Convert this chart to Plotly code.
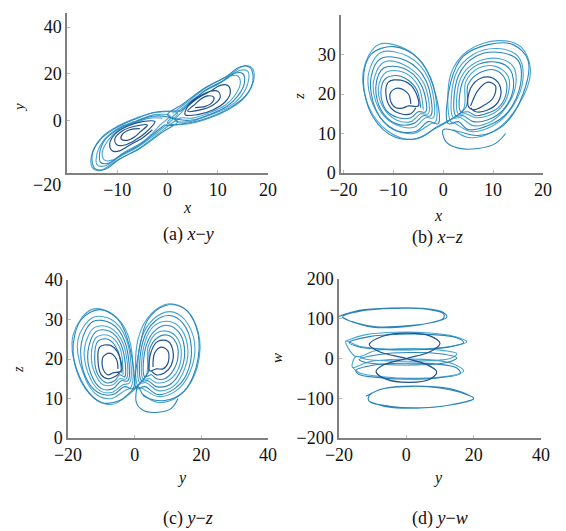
import plotly.graph_objects as go

# ---------------- (a) x-y projection ----------------
a_light_x = [-1, -3.5, -6.5, -10, -12, -13, -12.5, -11, -8.5, -5.5, -3, -1.5,
             0.5, -2.5, -6, -10, -12.5, -14, -14, -12.5, -9.5, -6, -2.5, 0,
             2, -2, -6, -10, -13, -15, -15, -13.5, -10, -6, -2, 1,
             2.5, 5, 8, 11.5, 13.5, 14.5, 14, 12.5, 10, 7, 4.5, 3,
             1.5, 4.5, 8, 12, 14.5, 16, 16, 14.5, 11.5, 8, 4.5, 2,
             0, 4, 8, 12, 15, 17, 17, 15.5, 12, 8, 4, 1]
a_light_y = [1, 1, -1, -4.5, -9, -14, -17, -17, -13.5, -10, -5.5, -2,
             2, 2.5, 0, -3.5, -8, -14, -19, -19.5, -15.5, -11.5, -6, -1.5,
             3, 3.5, 1.3, -2.5, -7, -14, -20, -21.5, -17, -12.4, -6, -1,
             1, 1, 3, 6.5, 11, 16, 19, 19, 15.5, 12, 7.5, 4,
             0, -0.5, 2, 5.5, 10, 16, 21, 21.5, 17.5, 13.5, 8, 3.5,
             -1, -1.5, 0.7, 4.5, 9, 16, 22, 23.5, 19, 14.4, 8, 3]
a_mid_x = [2.5, -2.5, -6.5, -10.5, -13.5, -15, -14.5, -12.5, -9.5, -5.5, -1, 2,
           0, -3, -6.3, -10, -12.5, -13.5, -13.3, -11.8, -9, -5.8, -2.8, -0.5,
           -0.5, 4.5, 8.5, 12.5, 15.5, 17, 16.5, 14.5, 11.5, 7.5, 3, 0,
           2, 5, 8.3, 11.8, 14, 15.3, 15, 13.5, 10.8, 7.5, 4.8, 2.5]
a_mid_y = [4, 3.5, 0.5, -3.5, -8.5, -15, -20.5, -21, -16.5, -12, -5, -0.5,
           1.5, 1.8, -0.5, -4, -8.5, -14, -18, -18.3, -14.5, -10.8, -5.8, -1.8,
           -2, -1, 1.5, 5.5, 10.5, 17, 22.5, 23, 18.5, 14, 7, 2.5,
           0.5, 0.2, 2.5, 6, 10.5, 16, 20, 20.3, 16.5, 12.8, 7.8, 3.8]
a_dark_x = [-5.5, -7.5, -9, -9.2, -8, -6.5, -5.5,
            -4, -6.5, -9, -10.5, -10, -8.5, -6.5, -4.5,
            -2.5, -5, -8, -10.5, -11.5, -11, -9.5, -7.5, -5, -3, None,
            5.5, 7.5, 9, 9.2, 8, 6.5, 5.5,
            4, 6.5, 9, 10.5, 10, 8.5, 6.5, 4.5,
            3.5, 6, 9, 11.5, 12.5, 12, 10.5, 8.5, 6, 4]
a_dark_y = [-3.5, -4, -6, -8, -8.5, -7, -5,
            -2, -2.5, -4.5, -8, -10.5, -10.5, -8.5, -5.5,
            -0.5, -0.5, -2.5, -6, -10, -13, -13, -10.5, -7.5, -4, None,
            5.5, 6, 8, 10, 10.5, 9, 7,
            4, 4.5, 6.5, 10, 12.5, 12.5, 10.5, 7.5,
            2.5, 2.5, 4.5, 8, 12, 15, 15, 12.5, 9.5, 6]

# ---------------- (b) x-z projection ----------------
b_light_x = [-4, -5, -8, -11.5, -13, -12, -9.5, -6.5, -4.5,
             -3, -4, -8, -12, -14, -13, -10, -6, -3.5,
             -2, -3, -7, -12.5, -15, -14, -10.5, -6, -2.5,
             -1.5, -2.5, -7, -13, -16, -15, -11, -6, -2,
             4, 4.5, 7, 10.5, 13, 13, 11.5, 9, 6.5, 4.5,
             3, 3.5, 6.5, 11, 14, 14.5, 12.5, 9.5, 6, 3.5,
             2, 2.5, 6, 11, 15, 16, 14, 10, 5.5, 2.5,
             1.5, 1.5, 5, 11, 15.5, 17.5, 15, 10, 5, 2]
b_light_z = [16, 22, 25.5, 25.5, 21.5, 16.5, 13.5, 13, 15,
             15, 23, 27.5, 28, 23, 16.5, 12.5, 11.5, 14,
             14, 24, 29.5, 30.5, 25, 17, 11.5, 10, 12.5,
             13, 24, 31, 32.5, 26, 17, 10.5, 8.5, 11,
             16, 23, 26.5, 27, 24.5, 20, 16.5, 14.5, 14, 15,
             15, 24, 28, 29, 27, 22, 16.5, 13, 12, 14,
             14, 25, 30, 31.5, 29.5, 24, 17, 12, 10.5, 12.5,
             13, 25, 31, 33.5, 32, 26, 17, 10.5, 9, 11]
b_mid_x = [-4.5, -5.5, -8.5, -11.5, -12.5, -11.5, -9, -6.5, -5,
           -3.5, -4.5, -8, -12, -13.5, -12.5, -9.5, -6, -4,
           -2.5, -3.5, -7.5, -12.5, -14.5, -13.5, -10, -5.5, -3,
           -1, -2, -5, -10, -14.5, -16, -14, -9.5, -4.5, -1.5,
           4.5, 5, 7.5, 10.5, 12.5, 12.5, 11, 8.5, 6.5, 5,
           3.5, 4, 7, 11, 13.5, 14, 12, 9, 6, 4,
           2.5, 3, 6.5, 11.5, 15, 15.5, 13, 9, 5, 3,
           1, 1.5, 4, 9, 14, 17, 16, 12, 7, 3,
           0, 0.5, 3, 7, 10.5, 12.5]
b_mid_z = [16.5, 21.5, 24.5, 24, 20.5, 16, 14, 14, 15.5,
           15.5, 22.5, 26.5, 26.5, 22, 16, 12.5, 12.5, 14.5,
           14.5, 23.5, 28.5, 29, 24, 16, 11, 10.5, 13,
           12.5, 22, 29, 32, 30, 23, 14, 9, 9, 11.5,
           16.5, 22.5, 25.5, 26, 23.5, 19.5, 16.5, 15, 14.5, 15.5,
           15.5, 23.5, 27.5, 28, 26, 21, 16, 13.5, 13, 14.5,
           14.5, 24.5, 29.5, 30.5, 28.5, 22.5, 15.5, 12, 11, 13,
           12.5, 23, 29.5, 32.5, 32.5, 28.5, 20, 12, 9.5, 10.5,
           11, 8, 6.3, 6.2, 7.5, 10]
b_dark_x = [-6.5, -7, -9, -10.5, -10.5, -9.5, -8, -7,
            -5, -6, -8.5, -11, -11.5, -10.5, -8.5, -6.5, -5.5, None,
            5.5, 7, 9, 10.5, 10, 8, 6,
            5, 5.5, 7.5, 10, 11.5, 11, 9, 6.5, 5.5]
b_dark_z = [17.5, 20, 21.5, 20.5, 18, 16.5, 16.5, 17,
            17, 21.5, 23.5, 23, 20, 16.5, 15, 15, 16.5, None,
            17, 21, 23, 22, 19, 17, 16,
            17, 21.5, 24, 24, 21.5, 18, 16, 15.5, 16.5]

# ---------------- (c) y-z projection ----------------
c_light_y = [-3.5, -4.5, -8, -11.5, -13, -12, -9.5, -6.5, -4.5,
             -2.5, -3.5, -7.5, -12, -15, -14, -10.5, -7, -3.5,
             -1.5, -2.5, -7, -12.5, -17, -15.5, -11.5, -7, -3,
             -1, -2, -7, -13, -18.5, -17, -12, -7, -2.5,
             3.5, 4, 6.5, 10, 13, 14, 12.5, 10, 6.5, 4.5,
             2.5, 3, 6, 10.5, 14, 16, 14.5, 11.5, 7, 3.5,
             1.5, 2, 5.5, 10.5, 15, 18, 16.5, 12.5, 7, 2.5,
             1, 1, 5, 10.5, 16, 19.5, 18, 13, 7, 2.5]
c_light_z = [16, 23, 26, 25.5, 21, 16.5, 13.5, 13.5, 15,
             15, 24, 28, 28, 23, 16.5, 12, 11.5, 13.5,
             14, 25, 30, 30.5, 25, 16.5, 11, 10, 12,
             13, 26, 31.5, 32.5, 26, 16, 10, 8.5, 10.5,
             16, 23, 26.5, 27, 25, 21, 16.5, 14.5, 14, 15,
             15, 24, 28.5, 29.5, 27.5, 22, 16.5, 13, 12, 14,
             14, 25, 30, 32, 30, 24, 16.5, 12, 10.5, 12.5,
             13, 25, 31.5, 34, 32, 25, 16, 10.5, 9, 11]
c_mid_y = [-4, -5, -8, -11, -12, -11, -8.5, -6, -4.5,
           -3, -4, -7.5, -11.5, -14, -13, -10, -6.5, -4,
           -2, -3, -7, -12.5, -16, -15, -11, -6.5, -3,
           -0.5, -1.5, -5, -10.5, -16, -18.5, -15, -10, -4.5, -1.5,
           4, 4.5, 7, 10, 12.5, 13, 11.5, 9, 6.5, 5,
           3, 3.5, 6.5, 10, 13.5, 15, 13.5, 10.5, 6.5, 4,
           2, 2.5, 6, 10.5, 14.5, 17, 15.5, 12, 7, 3,
           0.5, 1.5, 4, 9, 14.5, 18.5, 19, 15, 9, 3,
           1, 0.5, 2.5, 7, 11, 13]
c_mid_z = [16.5, 22, 25, 24.5, 20, 16, 14, 14.5, 16,
           15.5, 23.5, 27, 27, 22, 16, 12.5, 12.5, 14.5,
           14.5, 24.5, 29, 29.5, 24, 16, 11.5, 11, 13,
           12.5, 23, 30, 32.5, 30, 22, 13, 9, 9.5, 11.5,
           16.5, 22.5, 25.5, 26, 24, 20.5, 17, 15, 15, 16,
           15.5, 23.5, 27.5, 28.5, 26.5, 21.5, 16.5, 13.5, 13, 14.5,
           14.5, 24.5, 29.5, 31, 29, 23, 16, 12.5, 11, 13,
           12.5, 23, 30, 33.5, 33, 28, 20, 12, 9.5, 10.5,
           13, 9, 7, 6.5, 7.5, 10]
c_dark_y = [-5, -5.5, -7.5, -9.5, -9.5, -8, -6.5,
            -4, -5, -7.5, -10.5, -11, -10, -8, -6, -4.5, None,
            5.5, 6, 8, 10, 10, 8.5, 6.5,
            4.5, 5, 7, 10, 11.5, 11, 9, 6.5, 5]
c_dark_z = [17.5, 20, 21.5, 20.5, 17.5, 16, 16.5,
            17, 21.5, 23.5, 23, 19.5, 16, 15, 15.5, 16.5, None,
            18, 21.5, 23, 22, 19, 17.5, 17.5,
            17, 22, 24.5, 24.5, 22, 18.5, 16.5, 16, 17]

# ---------------- (d) y-w projection ----------------
d_light_y = [-18, -12, -3, 7, 14, 18, 13, 4, -6, -14, -18,
             -15, -9, 0, 9, 15, 13, 5, -5, -12, -15,
             -16, -11, -2, 8, 14, 17, 12, 3, -7, -14, -16]
d_light_w = [44, 60, 66, 64, 56, 42, 30, 24, 24, 31, 44,
             5, 20, 25, 22, 12, 0, -6, -6, -2, 5,
             -22, -8, -2, -4, -14, -32, -45, -50, -46, -36, -22]
d_mid_y = [-20, -14, -5, 5, 11, 12, 8, 0, -9, -15,
           -19, -13, -4, 6, 11, 11, 6, -2, -10, -16, -19, None,
           -17, -11, -2, 8, 15, 17, 12, 3, -7, -14, -17, None,
           -14, -8, 1, 10, 15, 12, 3, -6, -12, -14, None,
           -15, -10, -1, 9, 15, 16, 10, 1, -8, -14, -15, None,
           -12, -7, 2, 10, 16, 20, 14, 4, -5, -11,
           -11, -6, 3, 11, 17, 20, 13, 3, -6, -11]
d_mid_w = [106, 121, 127, 126, 116, 104, 91, 82, 80, 90,
           104, 120, 126, 124, 113, 101, 88, 79, 79, 92, 104, None,
           40, 55, 61, 60, 52, 40, 28, 22, 23, 29, 40, None,
           -3, 10, 15, 12, 2, -10, -16, -15, -10, -3, None,
           -30, -17, -12, -14, -24, -38, -48, -52, -48, -40, -30, None,
           -95, -76, -70, -74, -85, -100, -115, -124, -120, -108,
           -93, -74, -69, -73, -86, -101, -117, -125, -121, -108]
d_dark_y = [-11, -7, 0, 7, 10, 7, 0, -7, -9, -6, 1, 7, 9, 6, 0, -8, -11]
d_dark_w = [35, 56, 64, 57, 38, 17, 0, -17, -33, -52, -60, -52, -33, -15, 0, 17, 35]

LIGHT = "#45a6d6"
MID = "#2b86ba"
DARK = "#1f528e"
SERIF = "Times New Roman, Liberation Serif, serif"

fig = go.Figure()
panels = [
    ("x", "y", a_light_x, a_light_y, a_mid_x, a_mid_y, a_dark_x, a_dark_y),
    ("x2", "y2", b_light_x, b_light_z, b_mid_x, b_mid_z, b_dark_x, b_dark_z),
    ("x3", "y3", c_light_y, c_light_z, c_mid_y, c_mid_z, c_dark_y, c_dark_z),
    ("x4", "y4", d_light_y, d_light_w, d_mid_y, d_mid_w, d_dark_y, d_dark_w),
]
for xa, ya, lx, ly, mx, my, dx, dy in panels:
    for tx, ty, col, wd in ((lx, ly, LIGHT, 1.1), (mx, my, MID, 1.1), (dx, dy, DARK, 1.2)):
        fig.add_trace(go.Scatter(x=tx, y=ty, mode="lines", xaxis=xa, yaxis=ya,
                                 line=dict(color=col, width=wd, shape="spline", smoothing=1.0),
                                 connectgaps=False, showlegend=False, hoverinfo="skip"))

# the page body adds an 8 px margin: shrink the figure and shift positions accordingly
OFF = 8
W, H = 566 - OFF, 531 - OFF


def px(x):
    return (x - OFF) / W


def py(y):
    return 1 - (y - OFF) / H


axis_common = dict(showline=True, linecolor="#808080", linewidth=1.5, showgrid=False,
                   zeroline=False, ticks="inside", ticklen=3, tickcolor="#b8b8b8",
                   automargin=False,
                   tickfont=dict(family=SERIF, size=18, color="#111"))

fig.update_layout(
    width=W, height=H, margin=dict(l=0, r=0, t=0, b=0, autoexpand=False),
    paper_bgcolor="white", plot_bgcolor="white", showlegend=False,
    xaxis=dict(domain=[px(67), px(268)], range=[-20, 20], tickvals=[-10, 0, 10, 20],
               anchor="y", **axis_common),
    yaxis=dict(domain=[py(173), py(13)], range=[-22.5, 46], tickvals=[0, 20, 40],
               anchor="x", **axis_common),
    xaxis2=dict(domain=[px(341), px(543)], range=[-20.5, 20], tickvals=[-20, -10, 0, 10, 20],
                anchor="y2", **axis_common),
    yaxis2=dict(domain=[py(173), py(15)], range=[0, 40], tickvals=[0, 10, 20, 30, 40],
                anchor="x2", **axis_common),
    xaxis3=dict(domain=[px(68), px(268)], range=[-20, 40], tickvals=[-20, 0, 20, 40],
                anchor="y3", **axis_common),
    yaxis3=dict(domain=[py(438), py(280)], range=[0, 40], tickvals=[0, 10, 20, 30, 40],
                anchor="x3", **axis_common),
    xaxis4=dict(domain=[px(339), px(541)], range=[-20, 40], tickvals=[-20, 0, 20, 40],
                anchor="y4", **axis_common),
    yaxis4=dict(domain=[py(438), py(279)], range=[-200, 200], tickvals=[-200, -100, 0, 100, 200],
                anchor="x4", **axis_common),
)

texts = [
    ("\u221220", 47, 185, 18, 0),
    ("<i>x</i>", 187, 208, 16, 0),
    ("<i>y</i>", 19, 108, 15, -90),
    ("(a) <i>x</i>\u2212<i>y</i>", 188, 235, 18, 0),
    ("<i>x</i>", 438, 215, 16, 0),
    ("<i>z</i>", 299, 97, 15, -90),
    ("(b) <i>x</i>\u2212<i>z</i>", 438, 237, 18, 0),
    ("<i>y</i>", 182, 478, 16, 0),
    ("<i>z</i>", 18, 370, 14, -90),
    ("(c) <i>y</i>\u2212<i>z</i>", 188, 518, 18, 0),
    ("<i>y</i>", 438, 478, 16, 0),
    ("<i>w</i>", 277, 358, 15, -90),
    ("(d) <i>y</i>\u2212<i>w</i>", 440, 518, 18, 0),
]
for t, x, y, s, ang in texts:
    fig.add_annotation(text=t, x=px(x), y=py(y), xref="paper", yref="paper",
                       showarrow=False, xanchor="center", yanchor="middle", textangle=ang,
                       font=dict(family=SERIF, size=s, color="#111"))

fig.write_html("out.html")
